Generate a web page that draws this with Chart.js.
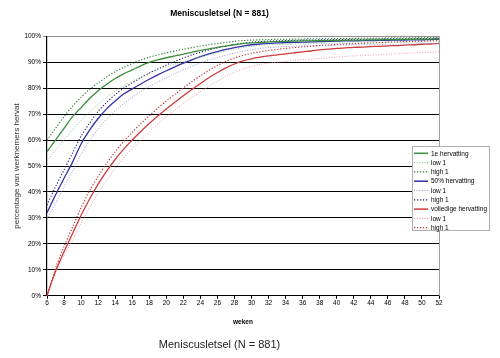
<!DOCTYPE html>
<html>
<head>
<meta charset="utf-8">
<script src="https://cdn.jsdelivr.net/npm/chart.js@4/dist/chart.umd.min.js"></script>
<style>
  html, body { margin: 0; padding: 0; background: #fff; }
  #wrap { width: 500px; height: 358px; }
</style>
</head>
<body>
<div id="wrap"><canvas id="meniscus-chart" width="500" height="358"></canvas></div>
<script>
// weeks 6 .. 52
var weeks = [6,7,8,9,10,11,12,13,14,15,16,17,18,19,20,21,22,23,24,25,26,27,28,29,
             30,31,32,33,34,35,36,37,38,39,40,41,42,43,44,45,46,47,48,49,50,51,52];

// 1e hervatting
var firstMain = [55.5,60,64.5,69,72.5,76,79,81.5,83.7,85.5,87,88.6,89.9,90.9,91.7,92.4,93.1,93.8,94.5,95.1,95.7,96.2,96.7,97.1,
                 97.4,97.6,97.8,97.9,98,98.1,98.2,98.2,98.3,98.3,98.4,98.4,98.5,98.5,98.6,98.6,98.7,98.7,98.8,98.8,98.9,98.9,99];
var firstLow  = [52,56,60,64,67.5,70.8,73.8,76.5,78.8,80.8,82.6,84.2,85.7,87,88.2,89.3,90.3,91.2,92,92.8,93.6,94.3,95,95.6,
                 96.1,96.4,96.7,96.8,96.9,97,97.1,97.1,97.2,97.2,97.3,97.3,97.4,97.4,97.5,97.5,97.6,97.6,97.7,97.7,97.8,97.8,97.9];
var firstHigh = [60,64.5,69,73,76.5,79.5,82,84.3,86.3,88,89.5,90.8,91.9,92.8,93.6,94.3,95,95.6,96.2,96.7,97.2,97.6,98,98.3,
                 98.5,98.6,98.7,98.8,98.8,98.9,98.9,99,99,99,99.1,99.1,99.1,99.2,99.2,99.2,99.3,99.3,99.3,99.4,99.4,99.4,99.5];

// 50% hervatting
var halfMain = [32,38.8,45.3,51.5,58.5,63.8,68.3,72,75,77.7,79.7,81.6,83.4,85.1,86.7,88.2,89.6,90.9,92.1,93.2,94.1,94.9,95.6,96.2,
                96.7,97,97.2,97.4,97.5,97.6,97.7,97.8,97.9,98,98.1,98.2,98.2,98.3,98.3,98.4,98.4,98.5,98.5,98.6,98.6,98.7,98.8];
var halfLow  = [29.5,35.5,42,48,54.5,59.8,64.3,68,71.2,74,76.5,78.7,80.6,82.4,84,85.6,87,88.4,89.7,90.8,91.8,92.7,93.5,94.2,
                94.8,95.3,95.6,95.8,96,96.1,96.2,96.3,96.4,96.5,96.6,96.6,96.7,96.7,96.8,96.8,96.9,96.9,97,97,97.1,97.1,97.2];
var halfHigh = [35,42,48.5,55,61.5,66.5,71,74.5,77.5,80,82,84,85.8,87.4,88.9,90.3,91.6,92.8,93.8,94.7,95.5,96.2,96.8,97.3,
                97.7,97.9,98.1,98.2,98.3,98.4,98.5,98.5,98.6,98.6,98.7,98.7,98.8,98.8,98.9,98.9,99,99,99,99.1,99.1,99.1,99.2];

// volledige hervatting
var fullMain = [0,9.5,17,24,31,37.3,43,48,52.5,56.5,60,63.3,66.4,69.3,72,74.6,77.1,79.5,81.8,84,86,87.8,89.3,90.5,
                91.3,91.9,92.4,92.8,93.2,93.6,94,94.3,94.7,95,95.3,95.5,95.7,95.8,96,96.1,96.3,96.4,96.6,96.7,96.9,97,97.2];
var fullLow  = [0,8.5,15.5,21.5,28,34,39.5,44.5,49,53,56.7,60,63.2,66.2,69,71.6,74,76.4,78.6,80.7,82.7,84.5,86.1,87.4,
                88.4,89.1,89.6,90,90.3,90.6,90.9,91.1,91.4,91.7,92,92.2,92.4,92.5,92.7,92.9,93.1,93.2,93.4,93.5,93.7,93.8,94];
var fullHigh = [0,10.5,19,26.5,34,40.5,46,51,55.5,59.5,63,66.3,69.4,72.3,75,77.6,80.1,82.5,84.7,86.8,88.7,90.3,91.6,92.6,
                93.4,94,94.5,94.9,95.3,95.6,95.9,96.1,96.4,96.6,96.8,97,97.1,97.3,97.4,97.6,97.7,97.8,97.9,98,98.1,98.2,98.3];

var yTicks = [0,10,20,30,40,50,60,70,80,90,100];

function mainLine(label, data, color) {
    return { label: label, data: data, borderColor: color, backgroundColor: color,
             borderWidth: 1.3, pointRadius: 0, tension: 0.3, fill: false };
}
function dotLine(label, data, color, width, dash) {
    return { label: label, data: data, borderColor: color, backgroundColor: color,
             borderWidth: width, borderDash: dash, pointRadius: 0, tension: 0.3, fill: false };
}

var datasets = [
    mainLine('1e hervatting', firstMain, 'rgb(60,140,60)'),
    dotLine('low 1', firstLow, 'rgb(140,195,140)', 0.9, [1, 1.6]),
    dotLine('high 1', firstHigh, 'rgb(30,120,30)', 1.1, [1.2, 1.8]),
    mainLine('50% hervatting', halfMain, 'rgb(50,50,170)'),
    dotLine('low 1', halfLow, 'rgb(140,140,225)', 0.9, [1, 1.6]),
    dotLine('high 1', halfHigh, 'rgb(30,30,120)', 1.1, [1.2, 1.8]),
    mainLine('volledige hervatting', fullMain, 'rgb(205,60,60)'),
    dotLine('low 1', fullLow, 'rgb(235,150,150)', 0.9, [1, 1.6]),
    dotLine('high 1', fullHigh, 'rgb(185,40,40)', 1.1, [1.2, 1.8])
];

// legend box + right border, drawn over the plot like the original
const boxLegend = {
    id: 'boxLegend',
    afterDraw(chart) {
        const c = chart.ctx, a = chart.chartArea;
        c.save();
        c.strokeStyle = '#a0a0a0';
        c.lineWidth = 1;
        c.beginPath();
        c.moveTo(a.right + 0.5, a.top);
        c.lineTo(a.right + 0.5, a.bottom);
        c.stroke();

        const x0 = 412.5, y0 = 146.5, w = 77, h = 84;
        c.fillStyle = '#fff';
        c.fillRect(x0, y0, w, h);
        c.strokeStyle = '#b0b0b0';
        c.strokeRect(x0, y0, w, h);
        c.font = '6.5px "Liberation Sans", Arial, sans-serif';
        c.textBaseline = 'middle';
        chart.data.datasets.forEach(function(ds, i) {
            const y = 153.3 + i * 9.3;
            c.strokeStyle = ds.borderColor;
            c.lineWidth = ds.borderWidth + 0.2;
            c.setLineDash(ds.borderDash || []);
            c.beginPath();
            c.moveTo(414, y);
            c.lineTo(428, y);
            c.stroke();
            c.setLineDash([]);
            c.fillStyle = '#000';
            c.fillText(ds.label, 431, y + 0.5);
        });
        c.restore();
    }
};

var ctx = document.getElementById('meniscus-chart');

new Chart(ctx, {
    type: 'line',
    data: { labels: weeks, datasets: datasets },
    plugins: [boxLegend],
    options: {
        responsive: false,
        animation: false,
        layout: { padding: { left: 0, right: 61, top: 0, bottom: 0 } },
        plugins: {
            legend: { display: false },
            tooltip: { enabled: false },
            title: {
                display: true,
                text: 'Meniscusletsel (N = 881)',
                color: '#000',
                font: { family: '"Liberation Sans", Arial, sans-serif', size: 8.5, weight: 'bold' },
                padding: { top: 9, bottom: 17 }
            },
            subtitle: {
                display: true,
                position: 'bottom',
                text: 'Meniscusletsel (N = 881)',
                color: '#222',
                font: { family: '"Liberation Sans", Arial, sans-serif', size: 11 },
                padding: { top: 13, bottom: 6 }
            }
        },
        scales: {
            x: {
                afterFit: function(scale) { scale.height = 30; },
                grid: { drawOnChartArea: false, drawTicks: true, tickLength: 3, color: '#000' },
                border: { color: '#000', width: 1 },
                ticks: {
                    autoSkip: false, maxRotation: 0, padding: 1, color: '#000',
                    font: { family: '"Liberation Sans", Arial, sans-serif', size: 6.5 },
                    callback: function(v, i) { return weeks[i] % 2 === 0 ? String(weeks[i]) : null; }
                },
                title: {
                    display: true, text: 'weken', color: '#000', padding: { top: 2, bottom: 0 },
                    font: { family: '"Liberation Sans", Arial, sans-serif', size: 6.5, weight: 'bold' }
                }
            },
            y: {
                min: 0, max: 100,
                afterFit: function(scale) { scale.width = 47; },
                afterBuildTicks: function(scale) { scale.ticks = yTicks.map(function(v) { return { value: v }; }); },
                grid: {
                    tickLength: 4,
                    color: function(c) { return c.tick && c.tick.value === 100 ? '#909090' : '#000'; },
                    lineWidth: 1
                },
                border: { color: '#000', width: 1.2 },
                ticks: {
                    color: '#000', padding: 2,
                    font: { family: '"Liberation Sans", Arial, sans-serif', size: 6.5 },
                    callback: function(v) { return v + '%'; }
                },
                title: {
                    display: true, text: 'percentage van werknemers hervat', color: '#333',
                    padding: { top: 12, bottom: 0 },
                    font: { family: '"Liberation Sans", Arial, sans-serif', size: 8 }
                }
            }
        }
    }
});
</script>
</body>
</html>
